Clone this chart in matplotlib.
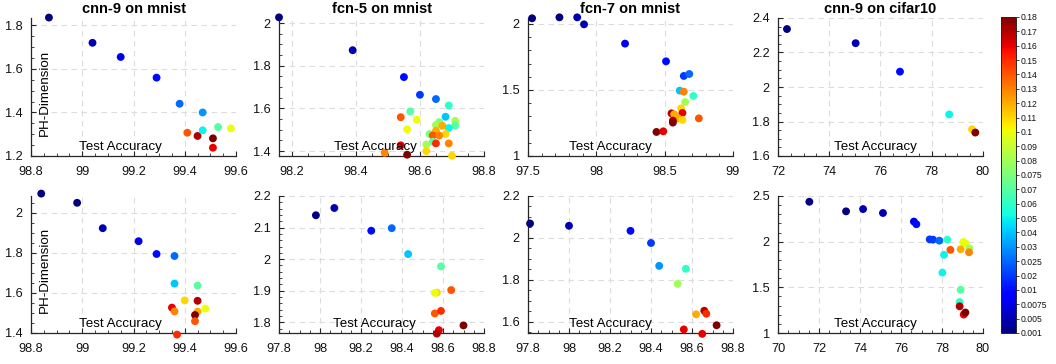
import matplotlib

matplotlib.use("Agg")

import matplotlib.pyplot as plt
from matplotlib.cm import ScalarMappable
from matplotlib.colors import Normalize
from matplotlib.ticker import AutoMinorLocator, FuncFormatter

plt.rcParams["font.family"] = ["Liberation Sans", "DejaVu Sans"]

# learning rates shown on the colorbar (one colour per level)
LR_LEVELS = [0.001, 0.005, 0.0075, 0.01, 0.02, 0.025, 0.03, 0.04, 0.05, 0.06,
             0.07, 0.075, 0.08, 0.09, 0.1, 0.11, 0.12, 0.13, 0.14, 0.15,
             0.16, 0.17, 0.18]
LR_LABELS = ["0.001", "0.005", "0.0075", "0.01", "0.02", "0.025", "0.03",
             "0.04", "0.05", "0.06", "0.07", "0.075", "0.08", "0.09", "0.1",
             "0.11", "0.12", "0.13", "0.14", "0.15", "0.16", "0.17", "0.18"]

# --- top row ---
cnn9_mnist_acc = [98.87, 99.04, 99.15, 99.29, 99.38, 99.47, 99.41, 99.45,
                  99.47, 99.53, 99.58, 99.51, 99.51]
cnn9_mnist_dim = [1.836, 1.72, 1.655, 1.56, 1.44, 1.40, 1.307, 1.292,
                  1.318, 1.333, 1.327, 1.281, 1.238]
cnn9_mnist_lr = [0.001, 0.005, 0.0075, 0.01, 0.025, 0.03, 0.14, 0.17,
                 0.05, 0.07, 0.1, 0.18, 0.16]

fcn5_mnist_acc = [98.16, 98.39, 98.55, 98.60, 98.65, 98.69, 98.57, 98.54,
                  98.59, 98.56, 98.68, 98.66, 98.65, 98.67, 98.71, 98.71,
                  98.69, 98.68, 98.63, 98.65, 98.64, 98.66, 98.64, 98.65,
                  98.62, 98.69, 98.54, 98.62, 98.49, 98.56, 98.70]
fcn5_mnist_dim = [2.027, 1.873, 1.747, 1.664, 1.644, 1.614, 1.586, 1.559,
                  1.547, 1.502, 1.561, 1.536, 1.522, 1.519, 1.542, 1.520,
                  1.508, 1.480, 1.480, 1.495, 1.473, 1.473, 1.444, 1.436,
                  1.431, 1.436, 1.427, 1.400, 1.392, 1.383, 1.378]
fcn5_mnist_lr = [0.001, 0.005, 0.01, 0.02, 0.025, 0.06, 0.07, 0.14,
                 0.1, 0.1, 0.04, 0.075, 0.08, 0.12, 0.08, 0.07,
                 0.05, 0.11, 0.075, 0.12, 0.14, 0.13, 0.07, 0.15,
                 0.08, 0.13, 0.16, 0.11, 0.13, 0.18, 0.11]

fcn7_mnist_acc = [97.53, 97.73, 97.86, 97.91, 98.21, 98.51, 98.64, 98.68,
                  98.61, 98.64, 98.71, 98.65, 98.62, 98.55, 98.57, 98.63,
                  98.60, 98.63, 98.56, 98.56, 98.75, 98.44, 98.49]
fcn7_mnist_dim = [2.043, 2.05, 2.05, 1.997, 1.851, 1.717, 1.606, 1.621,
                  1.495, 1.487, 1.455, 1.409, 1.361, 1.323, 1.316, 1.326,
                  1.285, 1.273, 1.268, 1.253, 1.285, 1.182, 1.187]
fcn7_mnist_lr = [0.001, 0.001, 0.005, 0.005, 0.0075, 0.01, 0.02, 0.025,
                 0.04, 0.13, 0.06, 0.08, 0.11, 0.17, 0.12, 0.16,
                 0.12, 0.11, 0.17, 0.18, 0.14, 0.18, 0.16]

cnn9_cifar_acc = [72.35, 75.03, 76.76, 78.68, 79.57, 79.70]
cnn9_cifar_dim = [2.336, 2.254, 2.089, 1.841, 1.755, 1.736]
cnn9_cifar_lr = [0.001, 0.005, 0.01, 0.05, 0.11, 0.18]

# --- bottom row ---
cnn9_mnist_acc_b = [98.84, 98.98, 99.08, 99.22, 99.29, 99.36, 99.36, 99.45,
                    99.40, 99.45, 99.35, 99.36, 99.45, 99.48, 99.44, 99.44,
                    99.37]
cnn9_mnist_dim_b = [2.097, 2.051, 1.924, 1.859, 1.795, 1.785, 1.647, 1.637,
                    1.563, 1.561, 1.527, 1.508, 1.507, 1.522, 1.490, 1.459,
                    1.392]
cnn9_mnist_lr_b = [0.001, 0.001, 0.005, 0.0075, 0.01, 0.025, 0.04, 0.07,
                   0.11, 0.17, 0.16, 0.13, 0.12, 0.1, 0.18, 0.14, 0.15]

fcn5_mnist_acc_b = [97.98, 98.07, 98.25, 98.35, 98.43, 98.59, 98.64, 98.57,
                    98.56, 98.56, 98.59, 98.58, 98.57, 98.70]
fcn5_mnist_dim_b = [2.139, 2.162, 2.090, 2.098, 2.016, 1.977, 1.902, 1.894,
                    1.893, 1.828, 1.836, 1.775, 1.764, 1.790]
fcn5_mnist_lr_b = [0.001, 0.005, 0.01, 0.025, 0.04, 0.07, 0.14, 0.11,
                   0.1, 0.14, 0.15, 0.16, 0.17, 0.18]

fcn7_mnist_acc_b = [97.81, 98.00, 98.30, 98.40, 98.44, 98.57, 98.53, 98.62,
                    98.66, 98.67, 98.72, 98.56, 98.65]
fcn7_mnist_dim_b = [2.069, 2.058, 2.034, 1.976, 1.867, 1.853, 1.781, 1.636,
                    1.653, 1.639, 1.584, 1.564, 1.543]
fcn7_mnist_lr_b = [0.001, 0.005, 0.01, 0.02, 0.03, 0.06, 0.08, 0.12,
                   0.17, 0.15, 0.18, 0.16, 0.16]

cnn9_cifar_acc_b = [71.53, 73.32, 74.15, 75.12, 76.63, 76.75, 77.40, 77.56,
                    77.87, 78.26, 78.10, 78.02, 78.41, 78.91, 79.04, 79.15,
                    79.33, 79.32, 78.91, 78.86, 78.86, 79.06, 79.14]
cnn9_cifar_dim_b = [2.437, 2.332, 2.357, 2.314, 2.220, 2.191, 2.025, 2.022,
                    2.011, 2.022, 1.856, 1.661, 1.910, 1.917, 1.996, 1.982,
                    1.928, 1.884, 1.473, 1.339, 1.292, 1.202, 1.224]
cnn9_cifar_lr_b = [0.001, 0.001, 0.005, 0.005, 0.0075, 0.01, 0.02, 0.02,
                   0.025, 0.06, 0.05, 0.05, 0.14, 0.12, 0.1, 0.1,
                   0.08, 0.13, 0.07, 0.06, 0.17, 0.16, 0.18]

FIG_W, FIG_H = 1056, 364
COL_LEFT = [31, 279, 528, 778]
AX_W = 205
ROW_SPAN = [(18, 156), (196, 333)]


def _fmt(v, _pos):
    return f"{v:g}"


def _panel(fig, row, col, acc, dim, lrs, *, title, xlim, ylim, xticks, yticks,
           xminor, yminor, label_x, ylabel=False):
    top, bottom = ROW_SPAN[row]
    ax = fig.add_axes([
        COL_LEFT[col] / FIG_W,
        1 - bottom / FIG_H,
        AX_W / FIG_W,
        (bottom - top) / FIG_H,
    ])
    colors = [LR_LEVELS.index(lr) for lr in lrs]
    ax.scatter(acc, dim, c=colors, cmap="jet", vmin=0, vmax=len(LR_LEVELS) - 1,
               s=32, linewidths=0, zorder=3, clip_on=False)
    ax.set_xlim(*xlim)
    ax.set_ylim(*ylim)
    ax.set_xticks(xticks)
    ax.set_yticks(yticks)
    ax.xaxis.set_major_formatter(FuncFormatter(_fmt))
    ax.yaxis.set_major_formatter(FuncFormatter(_fmt))
    ax.xaxis.set_minor_locator(AutoMinorLocator(xminor))
    ax.yaxis.set_minor_locator(AutoMinorLocator(yminor))
    ax.tick_params(which="both", direction="in", colors="#262626",
                   labelsize=9.2, labelcolor="#111111")
    ax.tick_params(which="major", length=3.5, width=0.8)
    ax.tick_params(which="minor", length=2, width=0.6)
    ax.tick_params(axis="x", which="major", pad=7.5)
    ax.tick_params(axis="y", which="major", pad=6)
    for side in ("top", "right"):
        ax.spines[side].set_visible(False)
    for side in ("left", "bottom"):
        ax.spines[side].set_color("#262626")
        ax.spines[side].set_linewidth(0.9)
    ax.grid(True, linestyle=(0, (5, 4)), color="#dcdcdc", linewidth=0.8)
    ax.set_axisbelow(True)
    ax.text(label_x, 0.065, "Test Accuracy", transform=ax.transAxes,
            ha="center", va="center", fontsize=9.6, zorder=4)
    if ylabel:
        ax.text(0.068, 0.46, "PH-Dimension", transform=ax.transAxes,
                rotation=90, ha="center", va="center", fontsize=9.6)
    if title:
        ax.set_title(title, fontsize=10.5, fontweight="bold", pad=3.5)
    return ax


def main() -> None:
    fig = plt.figure(figsize=(FIG_W / 100, FIG_H / 100), dpi=100)

    _panel(fig, 0, 0, cnn9_mnist_acc, cnn9_mnist_dim, cnn9_mnist_lr,
           title="cnn-9 on mnist", xlim=(98.8, 99.6), ylim=(1.2, 1.834),
           xticks=[98.8, 99, 99.2, 99.4, 99.6], yticks=[1.2, 1.4, 1.6, 1.8],
           xminor=4, yminor=4, label_x=0.437, ylabel=True)
    _panel(fig, 0, 1, fcn5_mnist_acc, fcn5_mnist_dim, fcn5_mnist_lr,
           title="fcn-5 on mnist", xlim=(98.16, 98.8), ylim=(1.377, 2.024),
           xticks=[98.2, 98.4, 98.6, 98.8], yticks=[1.4, 1.6, 1.8, 2],
           xminor=4, yminor=4, label_x=0.47)
    _panel(fig, 0, 2, fcn7_mnist_acc, fcn7_mnist_dim, fcn7_mnist_lr,
           title="fcn-7 on mnist", xlim=(97.5, 99), ylim=(1, 2.045),
           xticks=[97.5, 98, 98.5, 99], yticks=[1, 1.5, 2],
           xminor=5, yminor=5, label_x=0.40)
    _panel(fig, 0, 3, cnn9_cifar_acc, cnn9_cifar_dim, cnn9_cifar_lr,
           title="cnn-9 on cifar10", xlim=(72, 80), ylim=(1.6, 2.4),
           xticks=[72, 74, 76, 78, 80], yticks=[1.6, 1.8, 2, 2.2, 2.4],
           xminor=4, yminor=4, label_x=0.476)

    _panel(fig, 1, 0, cnn9_mnist_acc_b, cnn9_mnist_dim_b, cnn9_mnist_lr_b,
           title=None, xlim=(98.8, 99.6), ylim=(1.4, 2.085),
           xticks=[98.8, 99, 99.2, 99.4, 99.6], yticks=[1.4, 1.6, 1.8, 2],
           xminor=4, yminor=4, label_x=0.437, ylabel=True)
    _panel(fig, 1, 1, fcn5_mnist_acc_b, fcn5_mnist_dim_b, fcn5_mnist_lr_b,
           title=None, xlim=(97.8, 98.8), ylim=(1.766, 2.2),
           xticks=[97.8, 98, 98.2, 98.4, 98.6, 98.8],
           yticks=[1.8, 1.9, 2, 2.1, 2.2],
           xminor=4, yminor=5, label_x=0.466)
    _panel(fig, 1, 2, fcn7_mnist_acc_b, fcn7_mnist_dim_b, fcn7_mnist_lr_b,
           title=None, xlim=(97.8, 98.8), ylim=(1.547, 2.2),
           xticks=[97.8, 98, 98.2, 98.4, 98.6, 98.8],
           yticks=[1.6, 1.8, 2, 2.2],
           xminor=4, yminor=4, label_x=0.40)
    _panel(fig, 1, 3, cnn9_cifar_acc_b, cnn9_cifar_dim_b, cnn9_cifar_lr_b,
           title=None, xlim=(70, 80), ylim=(1, 2.5),
           xticks=[70, 72, 74, 76, 78, 80], yticks=[1, 1.5, 2, 2.5],
           xminor=4, yminor=5, label_x=0.476)

    cax = fig.add_axes([1001 / FIG_W, 1 - 333 / FIG_H, 15 / FIG_W, 316 / FIG_H])
    sm = ScalarMappable(norm=Normalize(0, len(LR_LEVELS) - 1), cmap="jet")
    cb = fig.colorbar(sm, cax=cax, ticks=range(len(LR_LEVELS)))
    cb.ax.set_yticklabels(LR_LABELS)
    cb.ax.tick_params(labelsize=6.2, length=2, width=0.6, pad=1.5,
                      colors="#262626", labelcolor="#111111")
    cb.outline.set_linewidth(0.7)
    cb.outline.set_edgecolor("#262626")

    fig.savefig("out.png", dpi=100)
    plt.close(fig)


if __name__ == "__main__":
    main()
